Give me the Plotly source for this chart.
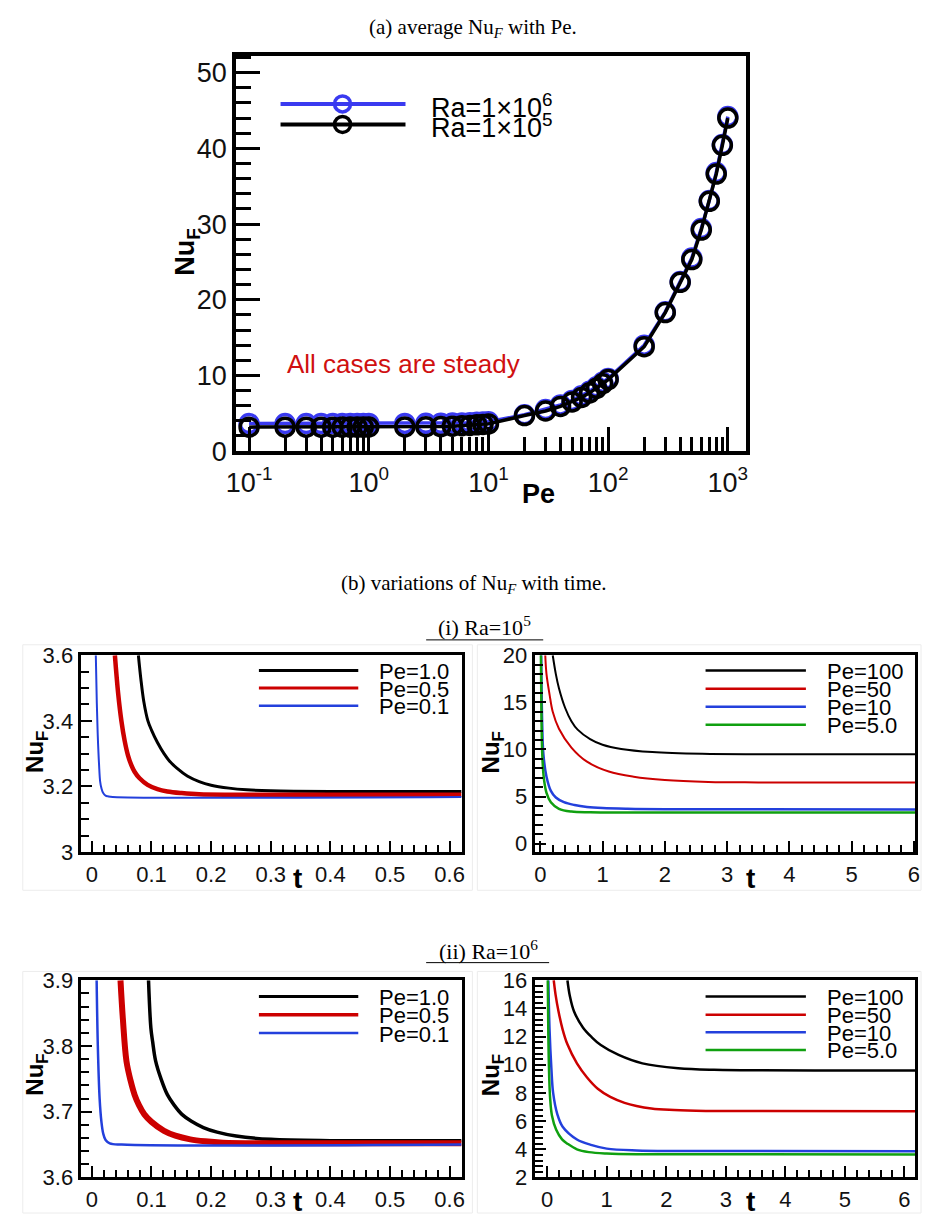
import plotly.graph_objects as go

W, H = 927, 1228
SANS = "Liberation Sans, Arial, sans-serif"
SERIF = "Liberation Serif, Times New Roman, serif"

# ---------------- (a) average Nu_F versus Pe ----------------
pe = [0.1, 0.2, 0.3, 0.4, 0.5, 0.6, 0.7, 0.8, 0.9, 1.0,
      2, 3, 4, 5, 6, 7, 8, 9, 10,
      20, 30, 40, 50, 60, 70, 80, 90, 100,
      200, 300, 400, 500, 600, 700, 800, 900, 1000]
nu_ra1e6 = [3.65, 3.65, 3.65, 3.65, 3.65, 3.652, 3.654, 3.655, 3.656, 3.657,
            3.66, 3.67, 3.68, 3.70, 3.73, 3.76, 3.80, 3.84, 3.88,
            4.8, 5.5, 6.1, 6.7, 7.3, 7.9, 8.5, 9.1, 9.6,
            14.0, 18.4, 22.4, 25.5, 29.4, 33.1, 36.8, 40.5, 44.2]
nu_ra1e5 = [3.17, 3.17, 3.17, 3.17, 3.17, 3.172, 3.175, 3.178, 3.181, 3.185,
            3.20, 3.22, 3.25, 3.30, 3.35, 3.40, 3.47, 3.53, 3.60,
            4.7, 5.3, 5.9, 6.5, 7.1, 7.7, 8.3, 8.9, 9.45,
            13.8, 18.3, 22.3, 25.3, 29.2, 33.0, 36.6, 40.4, 44.0]
pe_tickvals = [0.1, 1, 10, 100, 1000]
pe_ticktext = ["10<sup>-1</sup>", "10<sup>0</sup>", "10<sup>1</sup>",
               "10<sup>2</sup>", "10<sup>3</sup>"]
legend_a = ["Ra=1\u00d710<sup>6</sup>", "Ra=1\u00d710<sup>5</sup>"]

# ---------------- (b)(i) Ra=1e5, transient Nu_F ----------------
t_i_pe10 = [0.078, 0.082, 0.087, 0.094, 0.10, 0.11, 0.121, 0.13, 0.143, 0.16,
            0.18, 0.20, 0.23, 0.26, 0.30, 0.40, 0.62]
nu_i_pe10 = [3.60, 3.53, 3.46, 3.40, 3.372, 3.334, 3.30, 3.278, 3.255, 3.232,
             3.215, 3.204, 3.195, 3.19, 3.187, 3.185, 3.185]
t_i_pe05 = [0.0386, 0.044, 0.0495, 0.055, 0.0605, 0.066, 0.0716, 0.08, 0.0935,
            0.11, 0.1266, 0.15, 0.18, 0.25, 0.62]
nu_i_pe05 = [3.60, 3.485, 3.40, 3.339, 3.295, 3.266, 3.245, 3.225, 3.205,
             3.192, 3.185, 3.18, 3.176, 3.175, 3.175]
t_i_pe01 = [0.0066, 0.0083, 0.0099, 0.012, 0.0139, 0.016, 0.019, 0.023, 0.027, 0.035, 0.62]
nu_i_pe01 = [3.60, 3.454, 3.355, 3.268, 3.215, 3.195, 3.18, 3.172, 3.17, 3.168, 3.168]

t_i_pe100 = [0.2, 0.25, 0.3, 0.4, 0.5, 0.6, 0.8, 1.0, 1.3, 1.8, 2.6, 3.5, 6.02]
nu_i_pe100 = [20.0, 18.0, 16.5, 14.4, 13.0, 12.1, 11.1, 10.5, 10.05, 9.72, 9.53, 9.48, 9.48]
t_i_pe50 = [0.08, 0.1, 0.15, 0.2, 0.3, 0.5, 0.75, 1.1, 1.5, 2.0, 2.7, 3.5, 6.02]
nu_i_pe50 = [20.0, 18.0, 15.8, 14.0, 12.2, 10.2, 8.7, 7.65, 7.1, 6.75, 6.55, 6.5, 6.48]
t_i_pe10b = [0.015, 0.03, 0.05, 0.1, 0.17, 0.25, 0.38, 0.55, 0.75, 1.0, 1.4, 2.0, 6.02]
nu_i_pe10b = [20.0, 13.0, 9.5, 7.1, 5.6, 4.9, 4.4, 4.1, 3.9, 3.78, 3.7, 3.65, 3.63]
t_i_pe5 = [0.01, 0.02, 0.035, 0.06, 0.1, 0.17, 0.3, 0.5, 0.8, 1.5, 6.02]
nu_i_pe5 = [20.0, 13.0, 9.0, 6.8, 5.4, 4.4, 3.7, 3.4, 3.32, 3.3, 3.3]

# ---------------- (b)(ii) Ra=1e6, transient Nu_F ----------------
t_ii_pe10 = [0.095, 0.099, 0.102, 0.107, 0.116, 0.1266, 0.138, 0.151, 0.167, 0.187,
             0.21, 0.242, 0.3, 0.4, 0.62]
nu_ii_pe10 = [3.90, 3.827, 3.806, 3.777, 3.75, 3.726, 3.71, 3.696, 3.6855, 3.676,
              3.669, 3.663, 3.658, 3.656, 3.656]
t_ii_pe05 = [0.048, 0.052, 0.058, 0.065, 0.0716, 0.079, 0.088, 0.10, 0.121, 0.14,
             0.165, 0.19, 0.22, 0.30, 0.62]
nu_ii_pe05 = [3.90, 3.841, 3.777, 3.747, 3.726, 3.71, 3.696, 3.6846, 3.671, 3.6636,
              3.658, 3.655, 3.653, 3.652, 3.652]
t_ii_pe01 = [0.008, 0.010, 0.013, 0.016, 0.019, 0.023, 0.03, 0.05, 0.62]
nu_ii_pe01 = [3.90, 3.80, 3.72, 3.685, 3.667, 3.657, 3.652, 3.65, 3.65]

t_ii_pe100 = [0.34, 0.38, 0.45, 0.6, 0.75, 0.9, 1.2, 1.6, 2.2, 2.8, 6.2]
nu_ii_pe100 = [16.0, 14.9, 13.8, 12.65, 11.95, 11.4, 10.7, 10.1, 9.75, 9.64, 9.6]
t_ii_pe50 = [0.11, 0.14, 0.19, 0.26, 0.34, 0.5, 0.67, 0.85, 1.06, 1.3, 1.5, 1.75,
             2.05, 2.5, 3.0, 6.2]
nu_ii_pe50 = [16.0, 15.0, 13.8, 12.5, 11.45, 10.1, 9.1, 8.3, 7.72, 7.3, 7.08, 6.9,
              6.8, 6.74, 6.72, 6.7]
t_ii_pe10b = [0.02, 0.04, 0.07, 0.1, 0.17, 0.26, 0.5, 0.75, 1.0, 1.5, 2.2, 6.2]
nu_ii_pe10b = [16.0, 12.5, 9.8, 8.0, 6.5, 5.6, 4.7, 4.3, 4.05, 3.92, 3.88, 3.87]
t_ii_pe5 = [0.01, 0.02, 0.035, 0.05, 0.08, 0.15, 0.25, 0.34, 0.5, 0.7, 1.0, 1.5, 6.2]
nu_ii_pe5 = [16.0, 12.0, 9.0, 7.6, 6.4, 5.4, 4.7, 4.4, 4.0, 3.8, 3.7, 3.65, 3.64]

labels_low = ["Pe=1.0", "Pe=0.5", "Pe=0.1"]
labels_high = ["Pe=100", "Pe=50", "Pe=10", "Pe=5.0"]

BLACK, RED, BLUE, GREEN = "#000000", "#cc0000", "#2340dc", "#10a010"
BLUE_A = "#3a3af0"


def px(x):
    return x / W


def py(y):
    return 1 - y / H


fig = go.Figure()

# ---- panel (a) ----
for nu, col in [(nu_ra1e6, BLUE_A), (nu_ra1e5, BLACK)]:
    fig.add_trace(go.Scatter(
        x=pe, y=nu, mode="lines+markers", xaxis="x", yaxis="y",
        line=dict(color=col, width=3.5),
        marker=dict(symbol="circle-open", size=18, color=col,
                    line=dict(width=3.5, color=col)),
        showlegend=False))

# ---- panels (b) ----
panels = [
    ("x2", "y2", [(t_i_pe10, nu_i_pe10, BLACK, 3), (t_i_pe05, nu_i_pe05, RED, 4.5),
                  (t_i_pe01, nu_i_pe01, BLUE, 2)]),
    ("x3", "y3", [(t_i_pe100, nu_i_pe100, BLACK, 2), (t_i_pe50, nu_i_pe50, RED, 2),
                  (t_i_pe10b, nu_i_pe10b, BLUE, 2.5), (t_i_pe5, nu_i_pe5, GREEN, 2.5)]),
    ("x4", "y4", [(t_ii_pe10, nu_ii_pe10, BLACK, 3.5), (t_ii_pe05, nu_ii_pe05, RED, 6),
                  (t_ii_pe01, nu_ii_pe01, BLUE, 2.5)]),
    ("x5", "y5", [(t_ii_pe100, nu_ii_pe100, BLACK, 2.5), (t_ii_pe50, nu_ii_pe50, RED, 2.5),
                  (t_ii_pe10b, nu_ii_pe10b, BLUE, 2.5), (t_ii_pe5, nu_ii_pe5, GREEN, 2.5)]),
]
for xa, ya, curves in panels:
    for t, nu, col, w in curves:
        fig.add_trace(go.Scatter(
            x=t, y=nu, mode="lines", xaxis=xa, yaxis=ya,
            line=dict(color=col, width=w, shape="spline", smoothing=1.0),
            showlegend=False))

axis_common = dict(showline=True, linecolor="black", mirror=True, showgrid=False,
                   zeroline=False, ticks="inside", tickcolor="black")

# top panel axes
minor_pe = [m * 10.0 ** k for k in range(-1, 3) for m in range(2, 10)]
fig.update_layout(
    xaxis=dict(axis_common, type="log", domain=[px(230), px(748)], anchor="y",
               range=[-1.107, 3.151], linewidth=4, ticklen=24, tickwidth=3,
               tickmode="array", tickvals=pe_tickvals, ticktext=pe_ticktext,
               tickfont=dict(family=SANS, size=27, color="#111"),
               ticklabelstandoff=4,
               minor=dict(tickmode="array", tickvals=minor_pe, ticks="inside",
                          ticklen=14, tickwidth=2.5, tickcolor="black")),
    yaxis=dict(axis_common, domain=[py(449), py(45)], anchor="x",
               range=[0, 52.2], linewidth=4, ticklen=24, tickwidth=3,
               tickmode="linear", tick0=0, dtick=10,
               tickfont=dict(family=SANS, size=27, color="#111"),
               minor=dict(dtick=2, ticks="inside", ticklen=15, tickwidth=3,
                          tickcolor="black")),
)

left_dom = [px(71.7), px(459)]
right_dom = [px(533.3), px(920)]
row1 = [py(859), py(657.7)]
row2 = [py(1191.7), py(990)]
tf = dict(family=SANS, size=22, color="#111")
xf = dict(family=SANS, size=22, color="#111")
small = dict(linewidth=3, ticklen=11, tickwidth=2)

fig.update_layout(
    xaxis2=dict(axis_common, **small, domain=left_dom, anchor="y2", range=[-0.019, 0.62],
                dtick=0.1, tick0=0, tickfont=xf,
                minor=dict(dtick=0.02, ticks="inside", ticklen=7, tickwidth=2)),
    yaxis2=dict(axis_common, **small, domain=row1, anchor="x2", range=[3, 3.6],
                dtick=0.2, tick0=3, tickfont=tf,
                minor=dict(dtick=0.05, ticks="inside", ticklen=8, tickwidth=2)),
    xaxis3=dict(axis_common, **small, domain=right_dom, anchor="y3", range=[-0.09, 6.02],
                dtick=1, tick0=0, tickfont=xf,
                minor=dict(dtick=0.2, ticks="inside", ticklen=7, tickwidth=2)),
    yaxis3=dict(axis_common, **small, domain=row1, anchor="x3", range=[-0.9, 20],
                dtick=5, tick0=0, tickfont=tf,
                minor=dict(dtick=1, ticks="inside", ticklen=8, tickwidth=2)),
    xaxis4=dict(axis_common, **small, domain=left_dom, anchor="y4", range=[-0.019, 0.62],
                dtick=0.1, tick0=0, tickfont=xf,
                minor=dict(dtick=0.02, ticks="inside", ticklen=7, tickwidth=2)),
    yaxis4=dict(axis_common, **small, domain=row2, anchor="x4", range=[3.6, 3.9],
                dtick=0.1, tick0=3.6, tickfont=tf,
                minor=dict(dtick=0.02, ticks="inside", ticklen=8, tickwidth=2)),
    xaxis5=dict(axis_common, **small, domain=right_dom, anchor="y5", range=[-0.21, 6.18],
                dtick=1, tick0=0, tickfont=xf,
                minor=dict(dtick=0.2, ticks="inside", ticklen=7, tickwidth=2)),
    yaxis5=dict(axis_common, **small, domain=row2, anchor="x5", range=[2, 16],
                dtick=2, tick0=2, tickfont=tf,
                minor=dict(dtick=0.4, ticks="inside", ticklen=8, tickwidth=2)),
)

shapes = []
ann = []


def text(x, y, s, size, family=SANS, color="black", anchor="center", angle=0):
    ann.append(dict(x=px(x), y=py(y), xref="paper", yref="paper", text=s,
                    showarrow=False, xanchor=anchor, yanchor="middle",
                    textangle=angle, font=dict(family=family, size=size, color=color)))


def hline(x0, x1, y, color, width):
    shapes.append(dict(type="line", xref="paper", yref="paper", x0=px(x0), x1=px(x1),
                       y0=py(y), y1=py(y), line=dict(color=color, width=width)))


# faint frames around the four time-history panels
for x0, x1, y0, y1 in [(13, 470, 647, 898), (475, 926, 647, 898),
                       (13, 470, 981, 1228), (475, 926, 981, 1228)]:
    shapes.append(dict(type="rect", xref="paper", yref="paper", x0=px(x0), x1=px(x1),
                       y0=py(y1), y1=py(y0), line=dict(color="#ececec", width=1)))

# captions
text(471, 16, "(a) average Nu<sub><i>F</i></sub> with Pe.", 21, SERIF)
text(472, 585, "(b) variations of Nu<sub><i>F</i></sub> with time.", 21, SERIF)
text(482, 628, "(i) Ra=10<sup>5</sup>", 22, SERIF)
hline(423, 542, 642, "black", 1)
text(486, 959, "(ii) Ra=10<sup>6</sup>", 22, SERIF)
hline(423, 548, 972, "black", 1)

# panel (a) annotations
text(180, 245, "<b>Nu<sub>F</sub></b>", 27, angle=-90)
text(537, 493, "<b>Pe</b>", 27)
text(400, 360, "All cases are steady", 26, color="#d01010")
for yy, col, lab in [(94, BLUE_A, legend_a[0]), (115, BLACK, legend_a[1])]:
    hline(275, 402, yy, col, 4)
    shapes.append(dict(type="circle", xref="paper", yref="paper",
                       xsizemode="pixel", ysizemode="pixel",
                       xanchor=px(338), yanchor=py(yy), x0=-8, x1=8, y0=-8, y1=8,
                       line=dict(color=col, width=3.5)))
    text(426, yy + 2, lab, 27, anchor="left")

# panels (b) axis titles
for cx, cy in [(27, 757), (490, 757), (27, 1087), (490, 1087)]:
    text(cx, cy, "<b>Nu<sub>F</sub></b>", 24, angle=-90)
for cx, cy in [(292, 886), (753, 886), (292, 1216), (753, 1216)]:
    text(cx, cy, "<b>t</b>", 28)

# panels (b) legends
cols3 = [BLACK, RED, BLUE]
cols4 = [BLACK, RED, BLUE, GREEN]
for (x0, x1, xt, ys, labs, cols, ws) in [
        (253, 354, 373, [673.3, 691.3, 709.3], labels_low, cols3, [3, 3, 2.5]),
        (707, 809, 828, [673.3, 692, 710.3, 728.7], labels_high, cols4, [2.5] * 4),
        (253, 354, 373, [1006.7, 1025.3, 1044], labels_low, cols3, [3, 3.5, 2.5]),
        (707, 809, 828, [1006.7, 1025.3, 1043.3, 1061.3], labels_high, cols4, [2.5] * 4)]:
    for yy, lab, col, w in zip(ys, labs, cols, ws):
        hline(x0, x1, yy, col, w)
        text(xt, yy + 1, lab, 22, anchor="left")

fig.update_layout(width=W, height=H, margin=dict(l=0, r=0, t=0, b=0),
                  paper_bgcolor="white", plot_bgcolor="white",
                  shapes=shapes, annotations=ann, showlegend=False)

fig.write_html("out.html")
